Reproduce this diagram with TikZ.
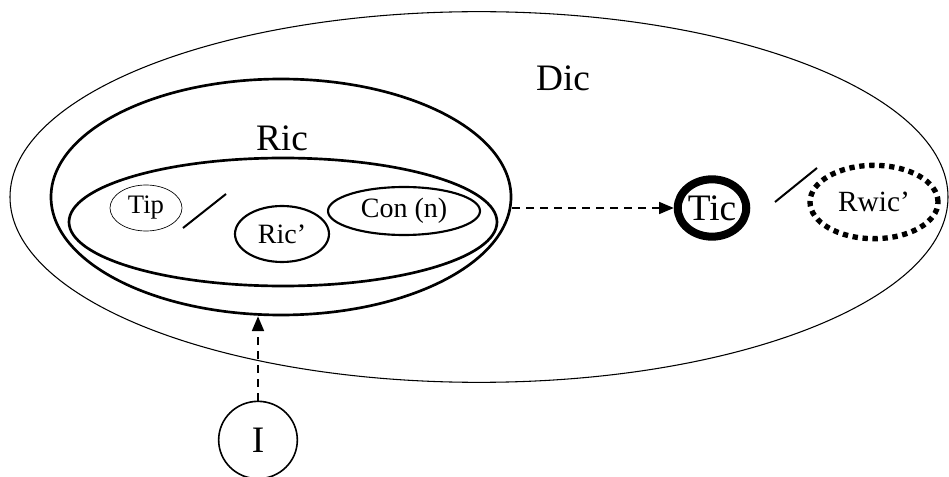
\documentclass[tikz,border=0pt]{standalone}
\usepackage{fontspec}
\setmainfont{Liberation Serif}
\usetikzlibrary{arrows.meta, shapes.geometric}

\begin{document}
\begin{tikzpicture}[x=0.75pt, y=-0.75pt,
    set/.style={draw, ellipse, inner sep=0pt},
    big/.style={font=\fontsize{28}{30}\selectfont},
    small/.style={font=\fontsize{21}{24}\selectfont},
    dashedarrow/.style={-{Triangle[length=11pt, width=9pt]}, line width=1.2pt, dash pattern=on 6pt off 4.5pt}]
  \useasboundingbox (0,0) rectangle (949,477);
  % outer and nested sets
  \node[set, line width=0.8pt, minimum width=703.5pt, minimum height=278pt] (dic) at (479,197) {};
  \node[set, line width=2pt, minimum width=345pt, minimum height=177pt] (ric) at (281,197) {};
  \node[set, line width=2pt, minimum width=321pt, minimum height=96pt] (core) at (283,222) {};
  \node[big] (diclabel) at (563,78) {Dic};
  \node[big] (riclabel) at (282,138) {Ric};
  % members of the inner set
  \node[set, line width=0.5pt, minimum width=54pt, minimum height=34.5pt, font=\fontsize{20}{22}\selectfont] (tip) at (146,208) {Tip};
  \node[set, line width=1.6pt, minimum width=70.5pt, minimum height=42pt, small] (ricp) at (282,234) {Ric'};
  \node[set, line width=1.6pt, minimum width=114pt, minimum height=36pt, small] (con) at (404,211) {Con (n)};
  \draw[line width=1.5pt] (183,228) -- (226,194);
  % target side
  \node[set, line width=6pt, minimum width=47pt, minimum height=43pt, big] (tic) at (712,208) {Tic};
  \node[set, line width=4pt, dash pattern=on 4pt off 3.5pt, minimum width=96pt, minimum height=55pt, font=\fontsize{22}{24}\selectfont] (rwic) at (874,202) {Rwic'};
  \draw[line width=1.5pt] (775,202) -- (817,168);
  % input
  \node[set, line width=1.2pt, minimum width=59pt, minimum height=58pt, big] (inp) at (258,440) {I};
  \draw[dashedarrow] (ric.east |- tic.west) -- (tic.west);
  \draw[dashedarrow] (inp.north) -- (inp.north |- ric.south);
\end{tikzpicture}
\end{document}
